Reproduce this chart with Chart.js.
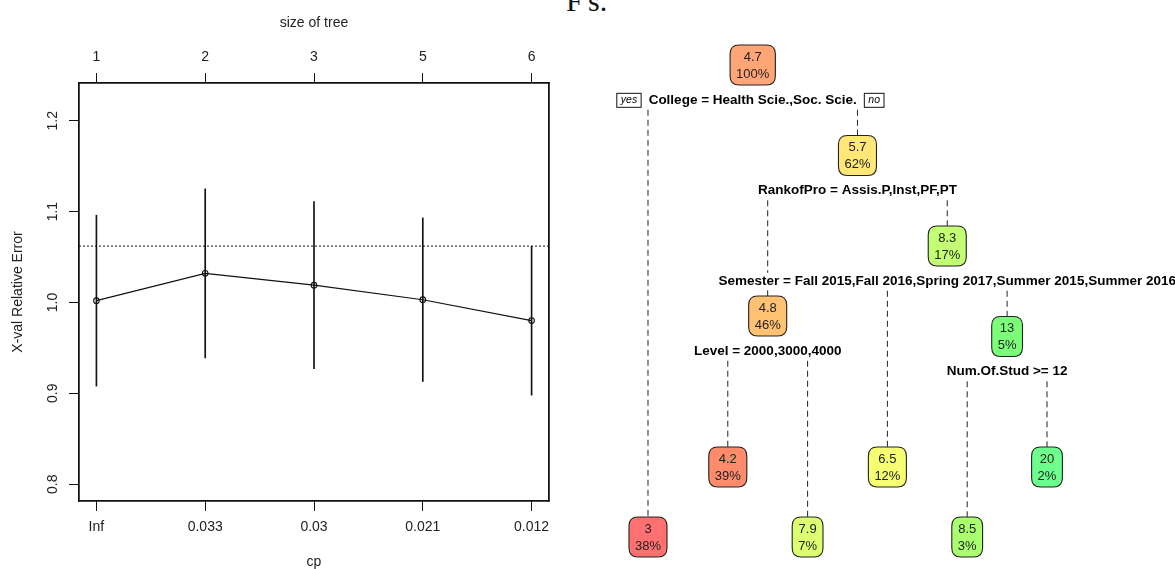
<!DOCTYPE html>
<html>
<head>
<meta charset="utf-8">
<title>Cross-validated error and regression tree</title>
<script src="https://cdn.jsdelivr.net/npm/chart.js@4.4.1/dist/chart.umd.min.js"></script>
<style>
  html, body { margin: 0; padding: 0; background: #fff; width: 1175px; height: 569px; overflow: hidden; }
  #cp   { position: absolute; left: 0; top: 0; }
  #tree { position: absolute; left: 580px; top: 0; }
  #caption { position: absolute; left: 566px; top: -14px; font-family: "Liberation Serif", "DejaVu Serif", serif;
             font-size: 30px; line-height: 30px; color: #111; white-space: nowrap; }
</style>
</head>
<body>
<div id="caption">F's.</div>
<canvas id="cp" width="580" height="569" style="width:580px;height:569px"></canvas>
<canvas id="tree" width="595" height="569" style="width:595px;height:569px"></canvas>
<script>
// ---- complexity-parameter table (plotcp) ----
const cpLabels  = ['Inf', '0.033', '0.03', '0.021', '0.012'];
const treeSizes = ['1', '2', '3', '5', '6'];
const xerror    = [1.002, 1.032, 1.019, 1.003, 0.980];
const xstd      = [0.094, 0.093, 0.092, 0.090, 0.082];
const oneSE     = 1.062;
const yTicks    = [0.8, 0.9, 1.0, 1.1, 1.2];

// ---- fitted regression tree (rpart node numbering) ----
const nodeId   = [1, 2, 3, 6, 12, 13, 7, 14, 15, 30, 31];
const nodeMean = [4.7, 3, 5.7, 4.8, 4.2, 7.9, 8.3, 6.5, 13, 8.5, 20];
const nodePct  = [100, 38, 62, 46, 39, 7, 17, 12, 5, 3, 2];
const splitNode  = [1, 3, 6, 7, 15];
const splitLabel = [
  'College = Health Scie.,Soc. Scie.',
  'RankofPro = Assis.P,Inst,PF,PT',
  'Level = 2000,3000,4000',
  'Semester = Fall 2015,Fall 2016,Spring 2017,Summer 2015,Summer 2016',
  'Num.Of.Stud >= 12'
];

// box fills, same order as nodeId
const nodeFill = ['#FFA576', '#FF7171', '#FFE878', '#FFC172', '#FF8B6D', '#DCFF6F',
                  '#C3FF72', '#F6FF72', '#7CFF78', '#A9FF70', '#6DFF8C'];

const INK = '#111';
const SANS = '"Liberation Sans", Arial, sans-serif';

// ------------------------------------------------------------------
// Left panel: X-val relative error against cp
// ------------------------------------------------------------------
const X_MIN = 0.84, X_MAX = 5.16;
const Y_MIN = 0.7815, Y_MAX = 1.2415;
const axisFont = { family: SANS, size: 14, lineHeight: 1.2 };

const frameAndLabels = {
  id: 'frameAndLabels',
  afterDraw(chart) {
    const { ctx, chartArea: a, scales: { y } } = chart;
    ctx.save();
    ctx.strokeStyle = INK;
    ctx.lineWidth = 1.3;
    ctx.strokeRect(a.left, a.top, a.right - a.left, a.bottom - a.top);
    // y tick labels are written parallel to the axis
    ctx.fillStyle = '#222';
    ctx.font = `14px ${SANS}`;
    ctx.textAlign = 'center';
    ctx.textBaseline = 'middle';
    y.ticks.forEach(t => {
      const py = y.getPixelForValue(t.value);
      ctx.save();
      ctx.translate(53, py);
      ctx.rotate(-Math.PI / 2);
      ctx.fillText(t.value.toFixed(1), 0, 0);
      ctx.restore();
    });
    ctx.restore();
  }
};

function hAxis(position, labels, title, fitHeight, titlePad) {
  return {
    type: 'linear', position, min: X_MIN, max: X_MAX, offset: false,
    afterBuildTicks: s => { s.ticks = labels.map((_, i) => ({ value: i + 1 })); },
    afterFit: s => { s.height = fitHeight; },
    ticks: { autoSkip: false, maxRotation: 0, minRotation: 0, padding: 7.5, color: '#222', font: axisFont,
             callback: v => labels[Math.round(v) - 1] },
    grid: { offset: false, drawOnChartArea: false, drawTicks: true, tickLength: 10, color: INK, lineWidth: 1 },
    border: { display: true, color: INK, width: 1.3 },
    title: { display: true, text: title, color: '#222', font: axisFont, padding: titlePad }
  };
}

function drawCp() {
  new Chart(document.getElementById('cp'), {
    type: 'line',
    data: {
      datasets: [
        {
          type: 'bar', label: 'xerror ± xstd',
          data: xerror.map((v, i) => ({ x: i + 1, y: [v - xstd[i], v + xstd[i]] })),
          backgroundColor: INK, borderWidth: 0, barThickness: 1, grouped: false,
          xAxisID: 'x', yAxisID: 'y', order: 3
        },
        {
          type: 'line', label: 'xerror',
          data: xerror.map((v, i) => ({ x: i + 1, y: v })),
          borderColor: INK, borderWidth: 1.2, tension: 0,
          pointRadius: 2.8, pointBorderWidth: 1.1, pointBorderColor: INK,
          pointBackgroundColor: 'rgba(255,255,255,0)', pointStyle: 'circle',
          xAxisID: 'x', yAxisID: 'y', order: 1
        },
        {
          type: 'line', label: 'min + 1 SE',
          data: [{ x: X_MIN, y: oneSE }, { x: X_MAX, y: oneSE }],
          borderColor: INK, borderWidth: 1, borderDash: [2, 2], pointRadius: 0,
          xAxisID: 'x', yAxisID: 'y', order: 2
        }
      ]
    },
    options: {
      responsive: false, animation: false, events: [],
      layout: { padding: { left: 0, right: 21, top: 0, bottom: 0 } },
      plugins: { legend: { display: false }, tooltip: { enabled: false } },
      scales: {
        x:  hAxis('bottom', cpLabels, 'cp', 68, { top: 0, bottom: -2 }),
        x2: hAxis('top', treeSizes, 'size of tree', 83, { top: 14.5, bottom: 0 }),
        y: {
          type: 'linear', position: 'left', min: Y_MIN, max: Y_MAX,
          afterBuildTicks: s => { s.ticks = yTicks.map(v => ({ value: v })); },
          afterFit: s => { s.width = 79; },
          ticks: { display: false },
          grid: { drawOnChartArea: false, drawTicks: true, tickLength: 10, color: INK, lineWidth: 1 },
          border: { display: true, color: INK, width: 1.3 },
          title: { display: true, text: 'X-val Relative Error', color: '#222', font: axisFont, padding: { top: 9.6, bottom: 0 } }
        },
        y2: {
          type: 'linear', position: 'right', min: Y_MIN, max: Y_MAX,
          afterFit: s => { s.width = 10; },
          ticks: { display: false },
          grid: { display: false, drawTicks: false },
          border: { display: true, color: INK, width: 1.3 }
        }
      }
    },
    plugins: [frameAndLabels]
  });
}

// ------------------------------------------------------------------
// Right panel: the regression tree
// ------------------------------------------------------------------
// layout in tree units: x = leaf slot, y = depth row
const LEAF_ROWS   = [5.215, 4.442];      // fallen leaves alternate between two rows
const ROW_SHIFT   = { 6: 0.773 };         // node pushed down to clear the Semester label
const LABEL_DROP  = 0.385;                // split label below its node
const BRANCH_FROM = 0.495;                // branch lines start under the split label
const TX_MIN = -0.852, TX_MAX = 6.604;
const TY_MIN = -0.718, TY_MAX = 5.569;

const pos = {};
nodeId.forEach((id, i) => { pos[id] = i; });
const isLeaf = id => pos[2 * id] === undefined;
const leafOrder = [];
(function walk(id) {
  if (isLeaf(id)) { leafOrder.push(id); return; }
  walk(2 * id); walk(2 * id + 1);
})(1);
const nodeX = {};
(function place(id) {
  nodeX[id] = isLeaf(id) ? leafOrder.indexOf(id) : (place(2 * id) + place(2 * id + 1)) / 2;
  return nodeX[id];
})(1);
const nodeRow = {};
nodeId.forEach(id => {
  nodeRow[id] = isLeaf(id)
    ? LEAF_ROWS[leafOrder.indexOf(id) % 2]
    : Math.floor(Math.log2(id)) + (ROW_SHIFT[id] || 0);
});

const branchSets = nodeId.filter(id => id !== 1).map(id => {
  const parent = Math.floor(id / 2);
  return {
    type: 'scatter', showLine: true,
    data: [{ x: nodeX[id], y: nodeRow[parent] + BRANCH_FROM }, { x: nodeX[id], y: nodeRow[id] }],
    borderColor: '#222', borderWidth: 1, borderDash: [6, 4], pointRadius: 0, order: 2
  };
});

function roundBox(ctx, x, y, w, h, r) {
  ctx.beginPath();
  ctx.moveTo(x + r, y);
  ctx.lineTo(x + w - r, y);
  ctx.quadraticCurveTo(x + w, y, x + w, y + r);
  ctx.lineTo(x + w, y + h - r);
  ctx.quadraticCurveTo(x + w, y + h, x + w - r, y + h);
  ctx.lineTo(x + r, y + h);
  ctx.quadraticCurveTo(x, y + h, x, y + h - r);
  ctx.lineTo(x, y + r);
  ctx.quadraticCurveTo(x, y, x + r, y);
  ctx.closePath();
}

const treeDraw = {
  id: 'treeDraw',
  afterDatasetsDraw(chart) {
    const { ctx, scales: { x, y } } = chart;
    ctx.save();
    ctx.textAlign = 'center';
    ctx.textBaseline = 'middle';

    // split labels on a white ground
    splitNode.forEach((id, k) => {
      const text = splitLabel[k];
      const px = x.getPixelForValue(nodeX[id]);
      const py = y.getPixelForValue(nodeRow[id] + LABEL_DROP);
      ctx.font = `bold 13.5px ${SANS}`;
      const w = ctx.measureText(text).width;
      ctx.fillStyle = '#fff';
      ctx.fillRect(px - w / 2 - 2, py - 8, w + 4, 16);
      ctx.fillStyle = '#000';
      ctx.fillText(text, px, py);

      if (id === 1) {
        // yes / no tags either side of the root split
        ctx.font = `italic 10.5px ${SANS}`;
        [['yes', px - w / 2 - 8, -1], ['no', px + w / 2 + 7, 1]].forEach(([tag, edge, dir]) => {
          const tw = ctx.measureText(tag).width + 8;
          const bx = dir < 0 ? edge - tw : edge;
          ctx.fillStyle = '#fff';
          ctx.fillRect(bx, py - 7, tw, 14);
          ctx.strokeStyle = '#111';
          ctx.lineWidth = 1;
          ctx.strokeRect(bx + 0.5, py - 6.5, tw, 14);
          ctx.fillStyle = '#000';
          ctx.fillText(tag, bx + tw / 2 + 0.5, py + 0.5);
        });
        ctx.font = `bold 13.5px ${SANS}`;
      }
    });

    // node boxes: mean response and share of observations
    nodeId.forEach((id, i) => {
      const px = x.getPixelForValue(nodeX[id]);
      const py = y.getPixelForValue(nodeRow[id]);
      const top = String(nodeMean[i]);
      const bottom = nodePct[i] + '%';
      ctx.font = `13px ${SANS}`;
      const w = Math.max(ctx.measureText(top).width, ctx.measureText(bottom).width) + 12;
      const h = 40;
      roundBox(ctx, px - w / 2, py - h / 2, w, h, 9);
      ctx.fillStyle = nodeFill[i];
      ctx.fill();
      ctx.strokeStyle = '#222';
      ctx.lineWidth = 1.1;
      ctx.stroke();
      ctx.fillStyle = '#222';
      ctx.fillText(top, px, py - 8);
      ctx.fillText(bottom, px, py + 9);
    });
    ctx.restore();
  }
};

function drawTree() {
  new Chart(document.getElementById('tree'), {
    type: 'scatter',
    data: {
      datasets: branchSets.concat([{
        type: 'scatter', label: 'nodes',
        data: nodeId.map(id => ({ x: nodeX[id], y: nodeRow[id] })),
        pointRadius: 0, order: 1
      }])
    },
    options: {
      responsive: false, animation: false, events: [],
      layout: { padding: 0 },
      plugins: { legend: { display: false }, tooltip: { enabled: false } },
      scales: {
        x: { type: 'linear', display: false, min: TX_MIN, max: TX_MAX },
        y: { type: 'linear', display: false, reverse: true, min: TY_MIN, max: TY_MAX }
      }
    },
    plugins: [treeDraw]
  });
}

Promise.all([
  document.fonts.load(`14px ${SANS}`),
  document.fonts.load(`bold 13.5px ${SANS}`),
  document.fonts.load(`italic 10.5px ${SANS}`)
]).catch(() => {}).finally(() => { drawCp(); drawTree(); });
</script>
</body>
</html>
